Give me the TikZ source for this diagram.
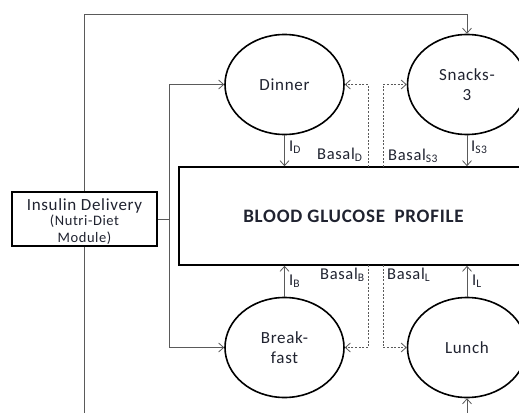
\documentclass[tikz,border=0pt]{standalone}
\usepackage{fontspec}
\setmainfont{Carlito}[LetterSpace=4]
\usetikzlibrary{arrows.meta,shapes.geometric}
\definecolor{txt}{HTML}{202330}
\definecolor{ln}{HTML}{5A5A5A}
\tikzset{
  meal/.style={ellipse, draw=black, line width=1.6pt, minimum width=119pt, minimum height=100pt, inner sep=0pt, align=center, text=txt, font=\fontsize{17}{20}\selectfont},
  conn/.style={draw=ln, line width=0.8pt, -{Straight Barb[length=5pt,width=9pt]}},
  plain/.style={draw=ln, line width=0.8pt},
  dconn/.style={draw=ln, line width=0.8pt, dash pattern=on 2pt off 1.6pt, -{Straight Barb[length=5pt,width=9pt]}},
  lbl/.style={anchor=base west, inner sep=0pt, text=txt, font=\fontsize{16.5}{19}\selectfont},
  idtext/.style={anchor=base, inner sep=0pt, text=txt},
}
\begin{document}
\begin{tikzpicture}[x=1pt,y=-1pt]
\clip (0,0) rectangle (519,412);
\fill[white] (0,0) rectangle (519,412);
% meals
\node[meal] (dinner) at (284.5,84.5) {Dinner};
\node[meal] (snacks) at (467,84.5) {Snacks-\\3};
\node[meal] (breakfast) at (284.5,347.5) {Break-\\fast};
\node[meal] (lunch) at (467,347.5) {Lunch};
% blood glucose profile
\node[draw=black, line width=1.6pt, minimum width=349pt, minimum height=98pt, text=txt, font=\fontsize{19}{22}\selectfont\bfseries] (bgp) at (353.5,216) {BLOOD GLUCOSE\hspace{0.5em}PROFILE};
% insulin delivery
\node[draw=black, line width=1.6pt, minimum width=145pt, minimum height=54pt, inner sep=0pt] (idl) at (84.5,219) {};
\node[idtext, font=\fontsize{17}{20}\selectfont] (idl1) at (84.5,210) {Insulin Delivery};
\node[idtext, font=\fontsize{14.5}{17}\selectfont] (idl2) at (84.5,225) {(Nutri-Diet};
\node[idtext, font=\fontsize{14.5}{17}\selectfont] (idl3) at (84.5,242) {Module)};
% coordinates
\coordinate (top) at (84.5,14);
\coordinate (bot) at (84.5,440);
\coordinate (j) at (169,219);
\coordinate (dD) at (368,167);
\coordinate (dS) at (383,167);
\coordinate (dB) at (368,265);
\coordinate (dL) at (383,265);
% outer loop
\draw[conn] (idl.north) -- (top) -| (snacks.north);
\draw[conn] (idl.south) -- (bot) -| (lunch.south);
% junction
\draw[plain] (idl.east) -- (j);
\draw[conn] (j) |- (dinner.west);
\draw[conn] (j) |- (breakfast.west);
% insulin arrows
\draw[conn] (dinner.south) -- (dinner.south |- bgp.north);
\draw[conn] (snacks.south) -- (snacks.south |- bgp.north);
\draw[conn] (breakfast.north) -- (breakfast.north |- bgp.south);
\draw[conn] (lunch.north) -- (lunch.north |- bgp.south);
% basal dashed
\draw[dconn] (dD) |- (dinner.east);
\draw[dconn] (dS) |- (snacks.west);
\draw[dconn] (dB) |- (breakfast.east);
\draw[dconn] (dL) |- (lunch.west);
% labels
\node[lbl] (lD) at (289,151) {I\textsubscript{D}};
\node[lbl] (lBD) at (317,159) {Basal\textsubscript{D}};
\node[lbl] (lBS) at (388,160) {Basal\textsubscript{S3}};
\node[lbl] (lS) at (471,151) {I\textsubscript{S3}};
\node[lbl] (lB) at (289,285) {I\textsubscript{B}};
\node[lbl] (lBB) at (320,279) {Basal\textsubscript{B}};
\node[lbl] (lBL) at (387,279) {Basal\textsubscript{L}};
\node[lbl] (lL) at (472,285) {I\textsubscript{L}};
\end{tikzpicture}
\end{document}
